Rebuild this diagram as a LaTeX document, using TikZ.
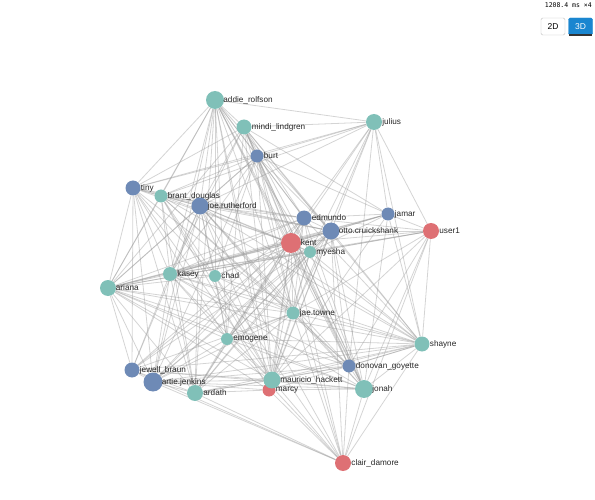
\documentclass[tikz,border=0pt]{standalone}
\usepackage{fontspec}
\setmainfont{Liberation Sans}
\setmonofont{DejaVu Sans Mono}
\pgfdeclarelayer{background}
\pgfsetlayers{background,main}
\definecolor{teal1}{RGB}{128,192,184}
\definecolor{blue1}{RGB}{110,138,182}
\definecolor{red1}{RGB}{222,112,116}
\definecolor{btnblue}{RGB}{26,134,208}
\begin{document}
\begin{tikzpicture}[x=1pt,y=-1pt,
  vtx/.style={circle,inner sep=0pt,minimum size=#1},
  tn/.style={vtx=#1,fill=teal1},
  bn/.style={vtx=#1,fill=blue1},
  rn/.style={vtx=#1,fill=red1},
  lbl/.style={font=\fontsize{8.2}{9}\selectfont,inner sep=0pt,text=black!85},
  edge/.style={draw=black!40,line width=0.8pt,opacity=0.42},
  btn/.style={draw=black!25,minimum width=24pt,minimum height=17pt,inner sep=0pt,rounded corners=1.5pt,font=\fontsize{8.5}{9}\selectfont}]
\useasboundingbox (0,0) rectangle (595,500);
% vertices
\node[tn=18,label={[lbl,label distance=-1pt]right:addie\_rolfson}] (ad) at (215,100) {};
\node[tn=15,label={[lbl,label distance=0pt]right:mindi\_lindgren}] (mi) at (244,127) {};
\node[tn=16,label={[lbl,label distance=0pt]right:julius}] (ju) at (374,122) {};
\node[bn=13,label={[lbl,label distance=0pt]right:burt}] (bu) at (257,156) {};
\node[bn=15,label={[lbl,label distance=0pt]right:tiny}] (ti) at (133,188) {};
\node[tn=13,label={[lbl,label distance=0pt]right:brant\_douglas}] (br) at (161,196) {};
\node[bn=17,label={[lbl,label distance=-1pt]right:joe.rutherford}] (jo) at (200,206) {};
\node[bn=15,label={[lbl,label distance=0pt]right:edmundo}] (ed) at (304,218) {};
\node[bn=13,label={[lbl,label distance=0pt]right:jamar}] (ja) at (388,214) {};
\node[bn=17,label={[lbl,label distance=-1pt]right:otto.cruickshank}] (ot) at (331,231) {};
\node[rn=16,label={[lbl,label distance=0pt]right:user1}] (us) at (431,231) {};
\node[rn=20,label={[lbl,label distance=-0.5pt]right:kent}] (ke) at (291,243) {};
\node[tn=12,label={[lbl,label distance=0pt]right:myesha}] (my) at (310,252) {};
\node[tn=14,label={[lbl,label distance=0pt]right:kasey}] (ka) at (170,274) {};
\node[tn=12,label={[lbl,label distance=0pt]right:chad}] (ch) at (215,276) {};
\node[tn=16,label={[lbl,label distance=-0.5pt]right:ariana}] (ar) at (108,288) {};
\node[tn=13,label={[lbl,label distance=0pt]right:jae.towne}] (jt) at (293,313) {};
\node[tn=12,label={[lbl,label distance=0pt]right:emogene}] (em) at (227,339) {};
\node[tn=15,label={[lbl,label distance=0pt]right:shayne}] (sh) at (422,344) {};
\node[bn=13,label={[lbl,label distance=0pt]right:donovan\_goyette}] (dg) at (349,366) {};
\node[bn=15,label={[lbl,label distance=0pt]right:jewell\_braun}] (jb) at (132,370) {};
\node[bn=19,label={[lbl,label distance=-1pt]right:artie.jenkins}] (aj) at (153,382) {};
\node[tn=16,label={[lbl,label distance=0pt]right:ardath}] (ard) at (195,393) {};
\node[rn=13,label={[lbl,label distance=0pt]right:marcy}] (ma) at (269,390) {};
\node[tn=17,label={[lbl,label distance=-0.5pt]right:mauricio\_hackett}] (mh) at (272,380) {};
\node[tn=18,label={[lbl,label distance=-1pt]right:jonah}] (jn) at (364,389) {};
\node[rn=16,label={[lbl,label distance=0pt]right:clair\_damore}] (cl) at (343,463) {};
% edges
\begin{pgfonlayer}{background}
\foreach \s/\ts in {
 ad/{mi,bu,ti,br,jo,ed,ke,my,ka,ch,ar,jt,em,mh,ma,jn,ju,ot,dg,ard,aj},
 mi/{bu,ti,jo,ed,ot,ke,my,ka,ar,jt,em,mh,jn,sh,ju,dg,ja},
 ju/{bu,ed,ja,ot,us,ke,my,sh,jt,dg,jo,br,ti},
 bu/{ti,br,jo,ed,ot,ke,ka,ch,ar,jt,mh,jn,ja,aj,cl},
 ti/{br,jo,ed,ot,ke,ka,ch,ar,em,jb,aj,mh,ard,jt},
 br/{jo,ed,ot,ke,ka,ch,ar,jt,mh,ma,dg,sh,ard},
 jo/{ed,ot,ke,my,ka,ch,ar,jt,em,jb,aj,mh,jn,sh,cl,ard,dg},
 ed/{ot,ja,us,ke,my,ka,ar,jt,em,sh,mh,jb,aj,jn,ard},
 ja/{ot,us,ke,my,sh,mh,jn,ar,ka},
 ot/{us,ke,my,ka,ch,ar,jt,em,sh,dg,jb,aj,mh,ma,jn,ard,cl},
 us/{ke,my,sh,jt,dg,mh,jn,cl,ar,ka},
 ke/{my,ka,ch,ar,jt,em,sh,dg,jb,aj,mh,ma,jn,ard,cl},
 my/{ka,ar,jt,em,sh,mh,jn,ard,aj},
 ka/{ch,ar,jt,em,jb,aj,mh,jn,ard,sh,dg},
 ch/{ar,jt,em,mh,sh,cl},
 ar/{jt,em,sh,jb,aj,mh,ma,ard,dg,jn},
 jt/{em,sh,dg,aj,mh,jn,cl,ard,jb},
 em/{sh,aj,mh,jn,ard,cl},
 sh/{dg,aj,mh,ma,jn,cl,ard,jb},
 dg/{mh,jn,cl,aj,ard},
 jb/{aj,mh,ard,cl,jn},
 aj/{mh,ma,ard,cl,jn},
 mh/{ma,jn,cl,ard},
 ma/{jn,cl,ard},
 jn/{cl},
 ard/{cl}}
 \foreach \t in \ts \draw[edge] (\s) -- (\t);
\end{pgfonlayer}
% top-right controls
\node[font=\ttfamily\fontsize{6.5}{7}\selectfont,anchor=north east,inner sep=0pt] (tm) at (592,2) {1208.4 ms ×4};
\node[btn,fill=white] (b2) at (553,26.5) {2D};
\node[btn,fill=btnblue,draw=btnblue,text=white] (b3) at (580.5,26.5) {3D};
\draw[line width=1.5pt,black!80] ([xshift=1pt]b3.south west) -- ([xshift=-1pt]b3.south east);
\end{tikzpicture}
\end{document}
